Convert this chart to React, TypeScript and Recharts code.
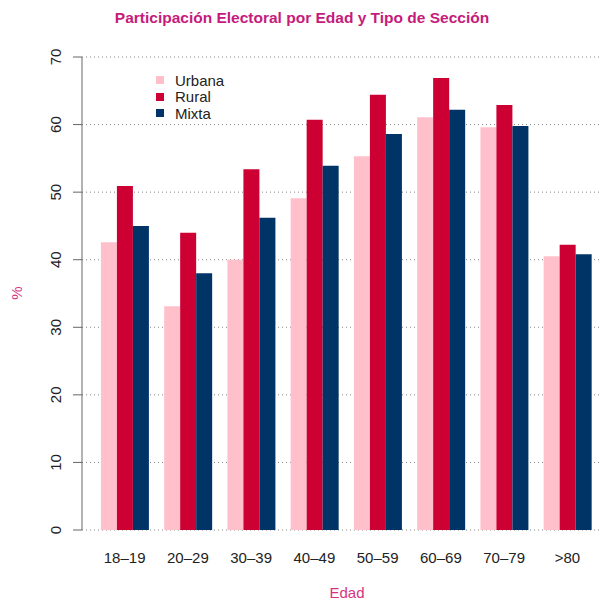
import { BarChart, Bar, XAxis, YAxis, CartesianGrid } from 'recharts';

const categories = ['18–19', '20–29', '30–39', '40–49', '50–59', '60–69', '70–79', '>80'];
const urbana = [42.6, 33.1, 40.0, 49.1, 55.3, 61.1, 59.6, 40.5];
const rural = [50.9, 44.0, 53.4, 60.7, 64.4, 66.9, 62.9, 42.2];
const mixta = [45.0, 38.0, 46.2, 53.9, 58.6, 62.2, 59.8, 40.8];
const yTicks = [0, 10, 20, 30, 40, 50, 60, 70];

const series = [
  { key: 'Urbana', color: '#FFC0CB', values: urbana },
  { key: 'Rural', color: '#CC0033', values: rural },
  { key: 'Mixta', color: '#003366', values: mixta },
];

const data = categories.map((c, i) => ({
  edad: c,
  Urbana: urbana[i],
  Rural: rural[i],
  Mixta: mixta[i],
}));

const font = '"Liberation Sans", Arial, Helvetica, sans-serif';
const pink = '#C51B7D';

const YTick = ({ y, payload }: any) => (
  <text
    x={61}
    y={y}
    transform={`rotate(-90, 61, ${y})`}
    textAnchor="middle"
    fontSize={15}
    fontFamily={font}
    fill="#222"
  >
    {payload.value}
  </text>
);

export default function App() {
  return (
    <div style={{ position: 'absolute', top: 0, left: 0, width: 600, height: 603, background: '#fff', fontFamily: font }}>
      <div style={{ position: 'absolute', top: 9, left: 0, width: 600, textAlign: 'center', paddingLeft: 2, fontSize: 15.5, fontWeight: 'bold', color: pink }}>
        Participación Electoral por Edad y Tipo de Sección
      </div>
      <div style={{ position: 'absolute', top: 584, left: 297, width: 100, textAlign: 'center', fontSize: 15, color: '#D6337F' }}>
        Edad
      </div>
      <div style={{ position: 'absolute', top: 283, left: 0, width: 34, height: 20, lineHeight: '20px', textAlign: 'center', fontSize: 15, color: '#D6337F', transform: 'rotate(-90deg)' }}>
        %
      </div>
      <div style={{ position: 'absolute', top: 72, left: 156, zIndex: 2 }}>
        {series.map((s) => (
          <div key={s.key} style={{ display: 'flex', alignItems: 'center', height: 16.5 }}>
            <span style={{ display: 'inline-block', width: 8, height: 8, background: s.color, marginRight: 11 }} />
            <span style={{ fontSize: 15, color: '#222' }}>{s.key}</span>
          </div>
        ))}
      </div>
      <BarChart
        width={600}
        height={603}
        data={data}
        margin={{ top: 57, right: 0, bottom: 33, left: 0 }}
        barCategoryGap="12.5%"
        barGap={0}
      >
        <CartesianGrid vertical={false} stroke="#888" strokeDasharray="1 3" />
        <XAxis
          dataKey="edad"
          height={40}
          axisLine={false}
          tickLine={false}
          tickSize={0}
          tickMargin={22}
          padding={{ left: 11, right: 1 }}
          tick={{ fontSize: 15, fill: '#222', fontFamily: font }}
          interval={0}
        />
        <YAxis
          width={82}
          domain={[0, 70]}
          ticks={yTicks}
          axisLine={{ stroke: '#666' }}
          tickLine={{ stroke: '#666' }}
          tickSize={9}
          tick={<YTick />}
          interval={0}
        />
        {series.map((s) => (
          <Bar key={s.key} dataKey={s.key} fill={s.color} isAnimationActive={false} />
        ))}
      </BarChart>
    </div>
  );
}
